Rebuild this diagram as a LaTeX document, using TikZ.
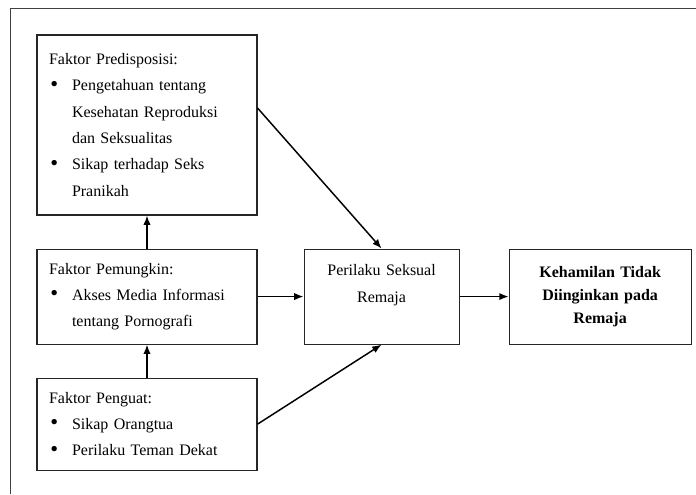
\documentclass[tikz,border=0pt]{standalone}
\usepackage{fontspec}
\setmainfont{Liberation Serif}
\usetikzlibrary{positioning,arrows.meta}

\newcommand{\butir}{\makebox[17.25pt][l]{\hspace{1pt}\raisebox{-0.3pt}{\scalebox{1.4}{\textbullet}}}}
\newcommand{\lanjut}{\hspace*{17.25pt}}

\tikzset{
	kerangka/.style = {
		x = 0.75pt,
		y = -0.75pt,
		node distance = 24.75pt,
		panah/.style = {
			draw,
			-{Latex[length=7pt,width=5.5pt]},
			line width = 1.1pt,
		}
	},
	kotak/.style = {
		rectangle,
		draw = black!85,
		line width = 0.8pt,
		inner xsep = 9pt,
		inner ysep = 4pt,
	},
	faktor/.style = {
		kotak,
		text width = 147pt,
		align = left,
		font = \fontsize{12pt}{19.75pt}\selectfont,
	},
	perilaku/.style = {
		kotak,
		text width = 98.25pt,
		minimum height = 71.25pt,
		align = center,
		font = \fontsize{12pt}{20pt}\selectfont,
	},
	dampak/.style = {
		kotak,
		text width = 118.5pt,
		minimum height = 71.25pt,
		align = center,
		font = \bfseries\fontsize{12pt}{17pt}\selectfont,
	}
}

\begin{document}
\begin{tikzpicture}[kerangka]
	\useasboundingbox (0,0) rectangle (696,494);
	\draw[black!75, line width = 0.75pt] (10.5,494) -- (10.5,8) -- (696,8);

	\node[faktor, minimum height = 135pt] (pre) at (147,125) {Faktor Predisposisi:\\
		\butir Pengetahuan tentang\\
		\lanjut Kesehatan Reproduksi\\
		\lanjut dan Seksualitas\\
		\butir Sikap terhadap Seks\\
		\lanjut Pranikah};
	\node[faktor, minimum height = 71.25pt, below = of pre] (pem) {Faktor Pemungkin:\\
		\butir Akses Media Informasi\\
		\lanjut tentang Pornografi};
	\node[faktor, minimum height = 69pt, below = of pem] (pen) {Faktor Penguat:\\
		\butir Sikap Orangtua\\
		\butir Perilaku Teman Dekat};
	\node[perilaku, right = 34.5pt of pem] (per) {Perilaku Seksual\\Remaja\\\mbox{}};
	\node[dampak, right = 36.75pt of per] (keh) {Kehamilan Tidak\\Diinginkan pada\\Remaja};

	\begin{scope}[every path/.style = panah]
		\path (pem) -- (pre);
		\path (pen) -- (pem);
		\path (pem) -- (per);
		\path (per) -- (keh);
		\path ([yshift = 12.75pt]pre.east) -- (per.north);
		\path (pen.east) -- (per.south);
	\end{scope}
\end{tikzpicture}
\end{document}
